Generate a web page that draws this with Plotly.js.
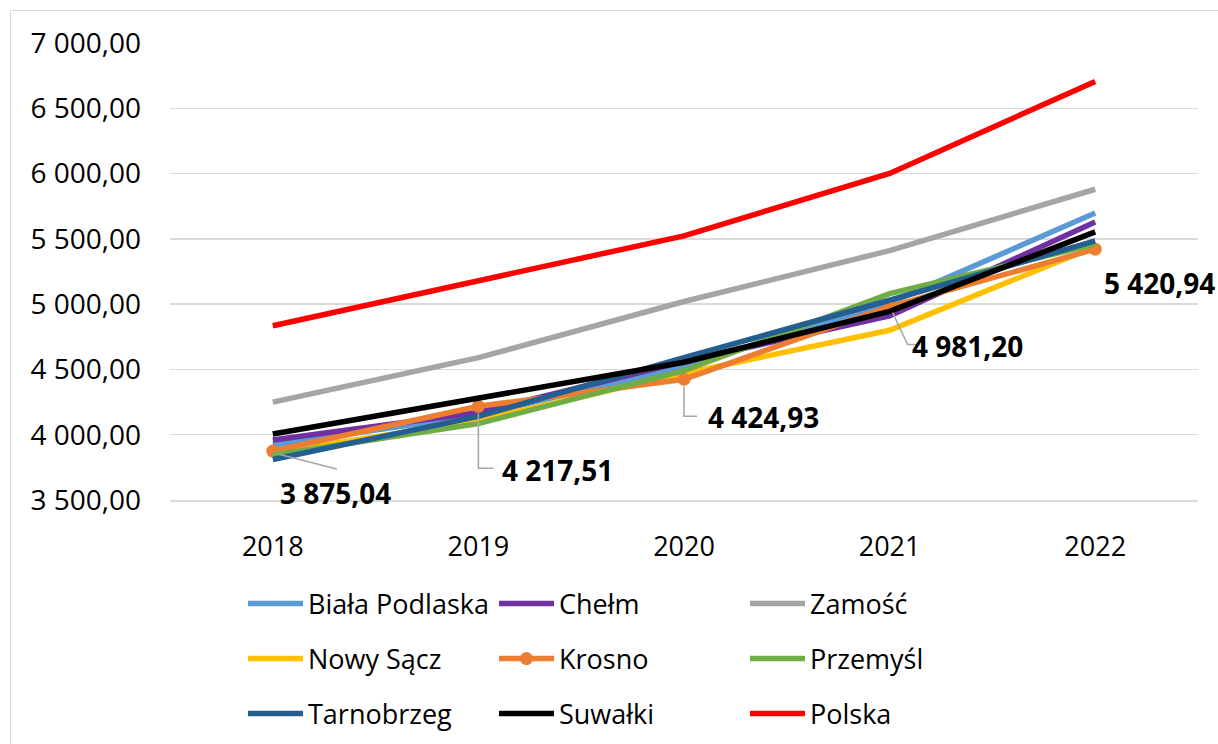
<!DOCTYPE html>
<html>
<head>
<meta charset="utf-8">
<script src="https://cdn.plot.ly/plotly-3.0.1.min.js"></script>
<style>
  html, body { margin: 0; padding: 0; background: #ffffff; }
  #wrap { position: relative; width: 1218px; height: 744px; overflow: hidden; }
  #chart { width: 1218px; height: 744px; }
  #frame { position: absolute; left: 10px; top: 10px; width: 1230px; height: 760px;
           border: 1.5px solid #d9d9d9; pointer-events: none; }
</style>
</head>
<body>
<div id="wrap">
  <div id="chart"></div>
  <div id="frame"></div>
</div>
<script>
// ---- data ----
const years = ['2018', '2019', '2020', '2021', '2022'];

const bialaPodlaska = [3921, 4150, 4520, 5010, 5698];
const chelm         = [3960, 4170, 4560, 4910, 5629];
const zamosc        = [4250, 4590, 5020, 5410, 5880];
const nowySacz      = [3860, 4110, 4470, 4800, 5440];
const krosno        = [3875.04, 4217.51, 4424.93, 4981.20, 5420.94];
const przemysl      = [3845, 4085, 4490, 5080, 5460];
const tarnobrzeg    = [3810, 4140, 4590, 5030, 5484];
const suwalki       = [4005, 4280, 4555, 4945, 5553];
const polska        = [4835, 5180, 5523, 6001, 6706];

const yTickVals = [3500, 4000, 4500, 5000, 5500, 6000, 6500, 7000];

// ---- helpers ----
function plNum(v) {
  const parts = v.toFixed(2).split('.');
  const intPart = parts[0].replace(/\B(?=(\d{3})+(?!\d))/g, ' ');
  return intPart + ',' + parts[1];
}

function lineTrace(name, values, color, legendId, extra) {
  const t = {
    type: 'scatter', mode: 'lines', name: name,
    x: years, y: values,
    line: { color: color, width: 5.5 },
    legend: legendId,
    hoverinfo: 'skip'
  };
  return Object.assign(t, extra || {});
}

const traces = [
  lineTrace('Biała Podlaska', bialaPodlaska, '#5B9BD5', 'legend'),
  lineTrace('Chełm', chelm, '#7030A0', 'legend'),
  lineTrace('Zamość', zamosc, '#A5A5A5', 'legend'),
  lineTrace('Nowy Sącz', nowySacz, '#FFC000', 'legend2'),
  lineTrace('Krosno', krosno, '#ED7D31', 'legend2',
            { mode: 'lines+markers', marker: { size: 13, color: '#ED7D31' } }),
  lineTrace('Przemyśl', przemysl, '#70AD47', 'legend2'),
  lineTrace('Tarnobrzeg', tarnobrzeg, '#255E91', 'legend3'),
  lineTrace('Suwałki', suwalki, '#000000', 'legend3'),
  lineTrace('Polska', polska, '#FF0000', 'legend3')
];

// label placement (pixel offsets from each Krosno point) and leader-line paths
const labelShiftX = [5, 22, 22, 20, 7];
const labelShiftY = [-42, -64, -38, -39, -34];
const leaderPaths = [
  'M5,-3 L64,-18',
  'M0,-7 V-62 H15',
  'M0,-7 V-37 H13',
  'M3,-6 L18,-38 H30',
  ''
];

const annotations = krosno.map(function (v, i) {
  return {
    x: i, y: v, xref: 'x', yref: 'y',
    text: '<b>' + plNum(v) + '</b>',
    showarrow: false, xanchor: 'left', yanchor: 'middle',
    xshift: labelShiftX[i], yshift: labelShiftY[i],
    font: { family: 'Open Sans', size: 28, color: '#000000' }
  };
});

const shapes = [];
krosno.forEach(function (v, i) {
  if (!leaderPaths[i]) return;
  shapes.push({
    type: 'path', xref: 'x', yref: 'y',
    xsizemode: 'pixel', ysizemode: 'pixel',
    xanchor: i, yanchor: v,
    path: leaderPaths[i],
    line: { color: '#A5A5A5', width: 1.5 },
    layer: 'above'
  });
});

const legendFont = { family: 'Open Sans', size: 27, color: '#000000' };
function legendCfg(y) {
  return {
    orientation: 'h', x: 0.071, xanchor: 'left', y: y, yanchor: 'middle',
    itemwidth: 55,
    entrywidth: 181, entrywidthmode: 'pixels',
    font: legendFont, bgcolor: 'rgba(0,0,0,0)',
    itemclick: false, itemdoubleclick: false
  };
}

const layout = {
  width: 1218, height: 744,
  margin: { l: 170, r: 20, t: 43, b: 244, autoexpand: false },
  paper_bgcolor: '#ffffff', plot_bgcolor: '#ffffff',
  separators: ', ',
  showlegend: true,
  font: { family: 'Open Sans', color: '#000000' },
  xaxis: {
    type: 'category', range: [-0.5, 4.5],
    showgrid: false, zeroline: false,
    showline: true, linecolor: '#d9d9d9', linewidth: 1.5,
    ticks: '', ticklabelstandoff: 22,
    tickfont: { family: 'Open Sans', size: 27, color: '#000000' }
  },
  yaxis: {
    range: [3500, 7000], tickvals: yTickVals, tickformat: ',.2f',
    showgrid: true, gridcolor: '#d9d9d9', gridwidth: 1.5,
    zeroline: false, showline: false, ticks: '',
    ticklabelstandoff: 28,
    tickfont: { family: 'Open Sans', size: 28, color: '#000000' }
  },
  legend: legendCfg(-0.2276),
  legend2: legendCfg(-0.348),
  legend3: legendCfg(-0.468),
  annotations: annotations,
  shapes: shapes
};

Plotly.newPlot('chart', traces, layout, { displayModeBar: false, staticPlot: true });
</script>
</body>
</html>
